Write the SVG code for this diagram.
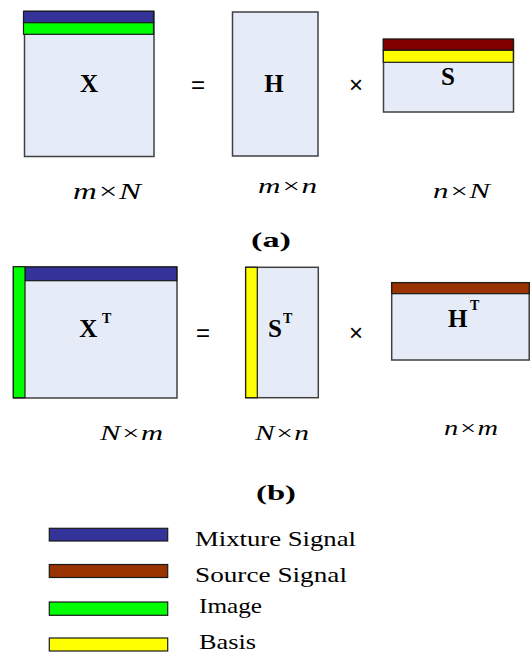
<svg xmlns="http://www.w3.org/2000/svg" width="530" height="657" viewBox="0 0 530 657">
<defs>
<style>
.box{fill:#E6ECF7;stroke:#404040;stroke-width:1.5}
.bar{stroke:#1a1a1a;stroke-width:1.2}
.blue{fill:#333399}.green{fill:#00FF00}.yellow{fill:#FFFF00}.maroon{fill:#800000}.brown{fill:#993300}
.serif{font-family:'Liberation Serif','Times New Roman',Times,serif;fill:#000}
.bold{font-weight:bold;font-size:25px}
.sup{font-weight:bold;font-size:14px}
.dim{font-style:italic}
.cap{font-weight:bold;font-size:22px}
.leg{font-size:22px}
.op{font-family:'Liberation Sans',Arial,sans-serif;font-size:24px;fill:#000;text-anchor:middle}
</style>
</defs>
<rect width="530" height="657" fill="#fff"/>

<!-- (a) -->
<g id="X">
<rect class="box" x="24.5" y="11.5" width="129.5" height="145"/>
<rect class="bar blue" x="23.5" y="11.2" width="130" height="11.5"/>
<rect class="bar green" x="23.5" y="22.7" width="130" height="11.6"/>
<text class="serif bold" x="89" y="92" text-anchor="middle">X</text>
<text class="serif dim" font-size="24" x="73" y="199" textLength="68" lengthAdjust="spacingAndGlyphs">m×N</text>
</g>
<text class="op" x="198" y="93">=</text>
<g id="H">
<rect class="box" x="232.5" y="12" width="85.5" height="144"/>
<text class="serif bold" x="274" y="92" text-anchor="middle">H</text>
<text class="serif dim" font-size="20" x="258" y="193" textLength="59" lengthAdjust="spacingAndGlyphs">m×n</text>
</g>
<text class="op" x="356" y="93">×</text>
<g id="S">
<rect class="box" x="383.5" y="39.5" width="130" height="72.5"/>
<rect class="bar maroon" x="383.3" y="39" width="130" height="11.3"/>
<rect class="bar yellow" x="383.3" y="50.3" width="130" height="12"/>
<text class="serif bold" x="448" y="85" text-anchor="middle">S</text>
<text class="serif dim" font-size="20" x="433" y="198" textLength="57" lengthAdjust="spacingAndGlyphs">n×N</text>
</g>
<text class="serif cap" x="271" y="247" text-anchor="middle" textLength="40" lengthAdjust="spacingAndGlyphs">(a)</text>

<!-- (b) -->
<g id="XT">
<rect class="box" x="13.5" y="267" width="163.5" height="131"/>
<rect class="bar blue" x="25" y="267" width="151.7" height="13.7"/>
<rect class="bar green" x="13.3" y="266.7" width="11.7" height="131"/>
<text class="serif bold" x="79.3" y="337">X</text>
<text class="serif sup" x="102" y="323">T</text>
<text class="serif dim" font-size="20" x="100" y="440" textLength="63" lengthAdjust="spacingAndGlyphs">N×m</text>
</g>
<text class="op" x="203" y="341">=</text>
<g id="ST">
<rect class="box" x="245.7" y="267.3" width="72.6" height="130.4"/>
<rect class="bar yellow" x="245.7" y="267.3" width="11.6" height="130.4"/>
<text class="serif bold" x="268" y="337">S</text>
<text class="serif sup" x="283" y="323">T</text>
<text class="serif dim" font-size="20" x="255" y="440" textLength="54" lengthAdjust="spacingAndGlyphs">N×n</text>
</g>
<text class="op" x="356" y="341">×</text>
<g id="HT">
<rect class="box" x="391.7" y="282.7" width="137.5" height="77.3"/>
<rect class="bar brown" x="391.7" y="282.7" width="137.5" height="11"/>
<text class="serif bold" x="448" y="327">H</text>
<text class="serif sup" x="470" y="310">T</text>
<text class="serif dim" font-size="20" x="444" y="435" textLength="54" lengthAdjust="spacingAndGlyphs">n×m</text>
</g>
<text class="serif cap" x="276" y="500" text-anchor="middle" textLength="40" lengthAdjust="spacingAndGlyphs">(b)</text>

<!-- legend -->
<g id="legend">
<rect class="bar blue" x="49.3" y="528.3" width="118.4" height="12.7"/>
<rect class="bar brown" x="49.3" y="564.5" width="118.4" height="13"/>
<rect class="bar green" x="49.3" y="602" width="118.4" height="13.3"/>
<rect class="bar yellow" x="49.3" y="638" width="118.4" height="13"/>
<text class="serif leg" x="195" y="546" textLength="161" lengthAdjust="spacingAndGlyphs">Mixture Signal</text>
<text class="serif leg" x="195" y="582" textLength="152" lengthAdjust="spacingAndGlyphs">Source Signal</text>
<text class="serif leg" x="199" y="613" textLength="63" lengthAdjust="spacingAndGlyphs">Image</text>
<text class="serif leg" x="199" y="649" textLength="57" lengthAdjust="spacingAndGlyphs">Basis</text>
</g>
</svg>
